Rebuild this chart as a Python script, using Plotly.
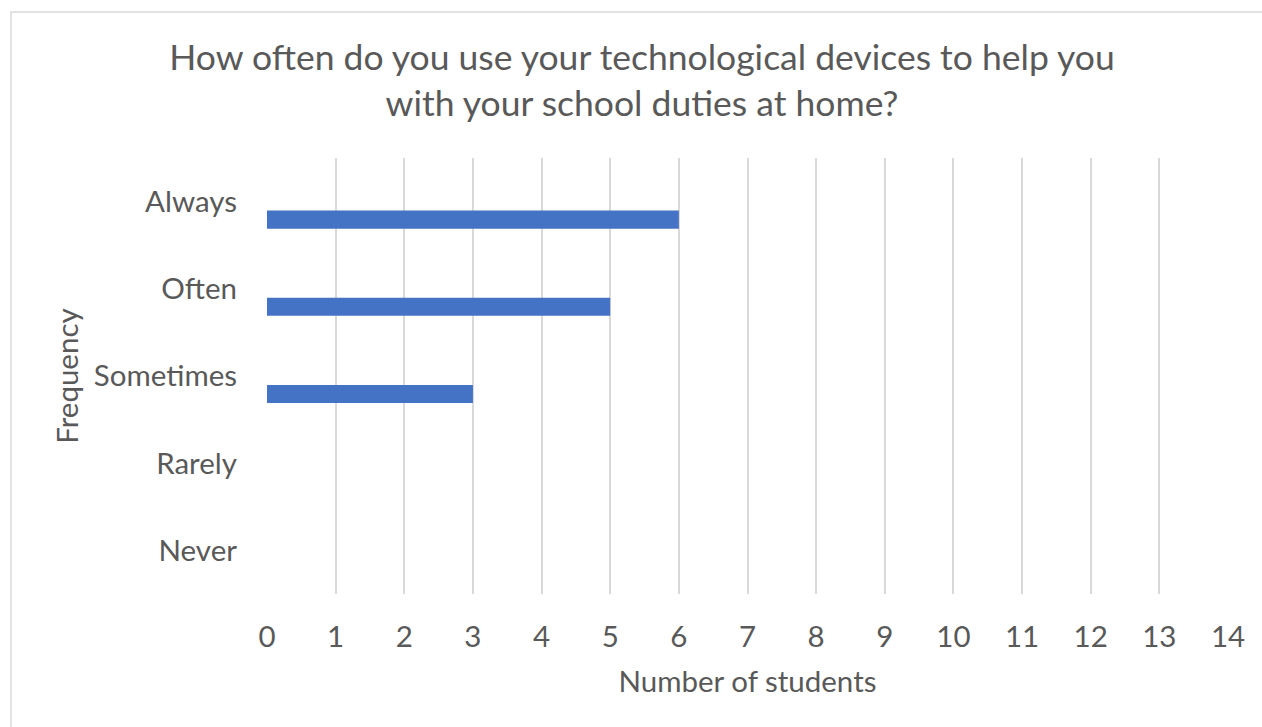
import plotly.graph_objects as go

# Survey responses: number of students per answer, listed bottom-to-top
categories = ["Never", "Rarely", "Sometimes", "Often", "Always"]
students = [0, 0, 3, 5, 6]
x_ticks = list(range(0, 15))

title_text = ("How often do you use your technological devices to help you"
              "<br>with your school duties at home?")

FONT = "Lato"
TEXT = "#595959"
GRID = "#D9D9D9"
BAR = "#4472C4"

fig = go.Figure()
fig.add_trace(go.Bar(
    x=students,
    y=categories,
    orientation="h",
    marker=dict(color=BAR, line=dict(width=0)),
    width=0.207,
    offset=-0.31,
    hoverinfo="x+y",
))

fig.update_layout(
    width=1262,
    height=727,
    margin=dict(l=267, r=34, t=158, b=133),
    paper_bgcolor="white",
    plot_bgcolor="white",
    showlegend=False,
    font=dict(family=FONT, color=TEXT),
    title=dict(
        text=title_text,
        x=642 / 1262, xref="container", xanchor="center",
        y=1 - 70 / 727, yref="container", yanchor="middle",
        font=dict(family=FONT, size=35.5, color=TEXT),
    ),
    xaxis=dict(
        range=[0, 14],
        tickvals=x_ticks,
        showgrid=True,
        gridcolor=GRID,
        gridwidth=1.5,
        zeroline=False,
        showline=False,
        ticks="",
        ticklabelstandoff=22,
        tickfont=dict(family=FONT, size=29.5, color=TEXT),
        title=dict(text="Number of students", standoff=19,
                   font=dict(family=FONT, size=29.5, color=TEXT)),
        fixedrange=True,
    ),
    yaxis=dict(
        type="category",
        categoryorder="array",
        categoryarray=categories,
        range=[-0.5, 4.5],
        showgrid=False,
        zeroline=False,
        showline=False,
        ticks="",
        ticklabelstandoff=29,
        tickfont=dict(family=FONT, size=29.5, color=TEXT),
        title=dict(text="Frequency", standoff=6,
                   font=dict(family=FONT, size=29.5, color=TEXT)),
        fixedrange=True,
    ),
    shapes=[dict(
        type="rect",
        xref="paper", yref="paper",
        x0=(11 - 267) / 961, x1=(1275 - 267) / 961,
        y0=(594 - 740) / 436, y1=(594 - 12) / 436,
        line=dict(color=GRID, width=1.5),
        fillcolor="rgba(0,0,0,0)",
        layer="below",
    )],
)

fig.write_html("out.html")
